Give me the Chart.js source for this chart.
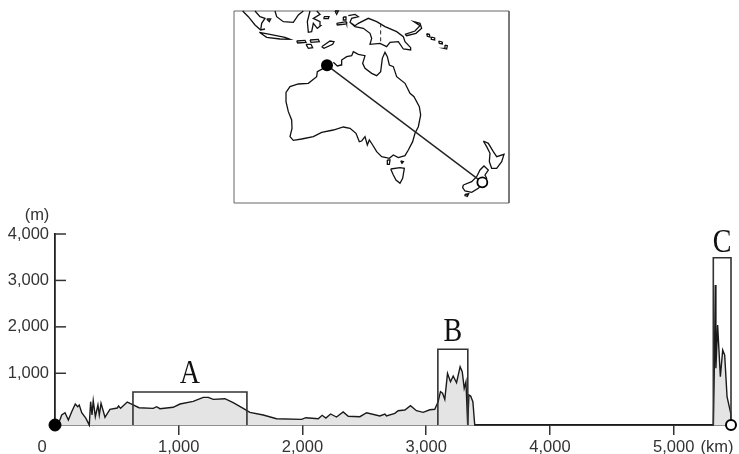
<!DOCTYPE html>
<html>
<head>
<meta charset="utf-8">
<style>
  html, body { margin: 0; padding: 0; background: #fff; }
  canvas { display: block; }
</style>
<script src="https://cdn.jsdelivr.net/npm/chart.js@4"></script>
</head>
<body>
<canvas id="profile" width="739" height="454"></canvas>
<script>
// elevation profile
const distKm = [0, 40, 54, 81, 108, 135, 164, 183, 196, 216, 250, 277, 288, 299, 309, 326, 347, 358, 372, 404, 444, 503, 514, 530, 584, 619, 679, 794, 821, 848, 955, 1010, 1117, 1198, 1239, 1279, 1373, 1440, 1521, 1575, 1683, 1790, 1993, 2027, 2127, 2159, 2189, 2227, 2275, 2329, 2370, 2464, 2518, 2625, 2666, 2679, 2746, 2773, 2827, 2873, 2921, 2975, 3029, 3069, 3096, 3115, 3132, 3150, 3172, 3196, 3218, 3245, 3274, 3291, 3307, 3321, 3335, 3345, 3359, 3377, 3392, 5320, 5328, 5336, 5341, 5355, 5377, 5396, 5412, 5431, 5461, 5463];
const elevM = [-114, -6, 101, 151, -6, 172, 338, 280, 317, 151, 30, -114, 388, 101, 409, 65, 317, 101, 353, 52, 224, 252, 295, 245, 381, 338, 258, 245, 280, 237, 267, 338, 396, 482, 482, 439, 452, 366, 245, 159, 101, 22, 8, 43, 22, 95, 37, 123, 58, 166, 73, 65, 151, 80, 123, 80, 138, 194, 209, 302, 194, 159, 215, 224, 388, 603, 569, 439, 999, 818, 941, 797, 1142, 1034, 676, 818, -114, 532, 510, 388, -114, -114, 1034, 2901, 1107, 2040, 926, 1501, 1393, 495, 138, -114];

const xTicks = [1000, 2000, 3000, 4000, 5000];
const yTicks = [1000, 2000, 3000, 4000];
const baseM = -114;
const endKm = 5463;

// boxes round the three mountain areas
const boxNames = ["A", "B", "C"];
const boxFrom = [630, 3094, 5320];
const boxTo = [1551, 3336, 5463];
const boxTop = [597, 1516, 3489];
const letterGap = [9, 8, 5.5];

// inset map outlines, in the map's own units
const mapFrame = [[12,18],[837,18],[837,594],[12,594],[12,18]];
const mapCoast = [
  [[310,172],[322,183],[333,180],[335,165],[350,155],[365,152],[370,140],[385,148],[405,152],[398,175],[405,190],[425,205],[440,212],[452,200],[457,160],[465,142],[472,155],[478,180],[490,185],[500,215],[525,235],[540,265],[552,275],[568,305],[572,330],[565,365],[555,385],[548,410],[535,435],[525,452],[505,458],[490,450],[478,460],[455,455],[440,440],[428,420],[418,405],[412,420],[405,395],[395,408],[388,410],[378,385],[360,370],[340,366],[310,375],[275,382],[250,395],[215,402],[190,406],[180,395],[186,370],[185,345],[175,320],[168,290],[168,262],[180,245],[205,237],[235,235],[260,215],[262,200],[280,190]],
  [[482,492],[510,488],[523,490],[518,520],[510,535],[498,525],[490,510],[482,492]],
  [[472,465],[480,465],[478,478],[472,478],[472,465]],
  [[512,468],[520,470],[516,475],[512,468]],
  [[38,18],[55,35],[75,60],[92,75],[105,72]],
  [[75,18],[90,35],[105,40],[95,55],[92,75]],
  [[88,82],[120,88],[165,97],[180,103],[150,102],[110,97],[88,82]],
  [[135,18],[140,35],[160,50],[190,52],[205,30],[220,18]],
  [[240,18],[232,50],[235,82],[245,80],[250,55],[262,70],[272,62],[270,50],[250,40],[270,28],[260,18]],
  [[110,42],[122,42],[118,50],[110,42]],
  [[200,108],[225,106],[228,112],[203,114],[200,108]],
  [[240,105],[265,103],[268,110],[243,112],[240,105]],
  [[228,118],[243,118],[248,128],[235,130],[228,118]],
  [[275,125],[300,108],[312,110],[308,118],[282,130],[275,125]],
  [[320,55],[348,50],[350,57],[322,60],[320,55]],
  [[282,35],[297,35],[295,41],[283,41],[282,35]],
  [[315,18],[325,18],[320,28],[315,18]],
  [[340,36],[348,36],[348,45],[340,45],[340,36]],
  [[355,32],[375,28],[385,35],[365,40],[360,52],[375,62],[385,55],[415,40],[440,50],[465,65],[500,80],[520,95],[525,110],[542,128],[542,135],[520,132],[505,110],[480,112],[470,125],[450,115],[420,118],[425,100],[420,85],[400,70],[375,65],[360,52]],
  [[525,88],[555,78],[570,62],[552,50],[570,55],[575,70],[558,85],[530,92],[525,88]],
  [[590,86],[598,88],[600,96],[592,94],[590,86]],
  [[604,96],[614,99],[614,105],[605,103],[604,96]],
  [[626,108],[636,111],[637,117],[628,115],[626,108]],
  [[645,120],[652,122],[650,132],[642,130],[645,120]],
  [[760,408],[775,415],[790,440],[800,455],[822,448],[815,470],[800,490],[785,490],[778,470],[780,445],[770,425],[760,408]],
  [[700,540],[725,530],[740,515],[750,495],[762,483],[775,495],[765,510],[770,520],[745,550],[725,562],[705,558],[698,548],[700,540]],
  [[705,568],[716,566],[712,574],[706,572],[705,568]]
];
const mapBorder = [[452,55],[452,110]];
const mapRoute = [[291,181],[757,532]];

function xy(list) {
  return list.map((p) => ({ x: p[0], y: p[1] }));
}

function mapLine(list, width, color, dash) {
  return {
    data: xy(list), xAxisID: "mapX", yAxisID: "mapY",
    borderColor: color, borderWidth: width, borderDash: dash || [],
    pointRadius: 0, showLine: true, clip: false, fill: false
  };
}

const datasets = [];

// start and end markers of the profile
datasets.push({
  data: [{ x: 0, y: baseM }], pointRadius: 6, pointBackgroundColor: "#000",
  pointBorderColor: "#000", clip: false
});
datasets.push({
  data: [{ x: endKm, y: baseM }], pointRadius: 5, pointBackgroundColor: "#fff",
  pointBorderColor: "#000", pointBorderWidth: 2, clip: false
});
datasets.push(mapLine(mapRoute, 1.4, "#222"));
datasets.push(mapLine(mapBorder, 1, "#222", [4, 3]));
mapCoast.forEach((c) => datasets.push(mapLine(c, 1.3, "#111")));
datasets.push(mapLine(mapFrame, 1, "#666"));

boxNames.forEach((name, i) => {
  datasets.push({
    data: [
      { x: boxFrom[i], y: baseM }, { x: boxFrom[i], y: boxTop[i] },
      { x: boxTo[i], y: boxTop[i] }, { x: boxTo[i], y: baseM }
    ],
    showLine: true, borderColor: "#333", borderWidth: 1.6, pointRadius: 0, clip: false
  });
});

datasets.push({
  data: distKm.map((d, i) => ({ x: d, y: elevM[i] })),
  showLine: true, borderColor: "#1a1a1a", borderWidth: 1.4, pointRadius: 0,
  fill: "start", backgroundColor: "#e4e4e4", clip: false
});

const labelFont = '16.5px "Liberation Sans"';

// inward y ticks, map markers and the texts that do not sit on a tick
const extras = {
  id: "extras",
  beforeDatasetsDraw(chart) {
    const ctx = chart.ctx;
    const sx = chart.scales.x;
    const sy = chart.scales.y;
    ctx.save();
    ctx.strokeStyle = "#333";
    ctx.lineWidth = 1.5;
    yTicks.forEach((v) => {
      const py = sy.getPixelForValue(v);
      ctx.beginPath();
      ctx.moveTo(sx.left, py);
      ctx.lineTo(sx.left + 11, py);
      ctx.stroke();
    });
    ctx.restore();
  },
  afterDatasetsDraw(chart) {
    const ctx = chart.ctx;
    const sx = chart.scales.x;
    const sy = chart.scales.y;
    const mx = chart.scales.mapX;
    const my = chart.scales.mapY;
    ctx.save();
    // points outside the chart area are skipped by the library, so these go here
    ctx.fillStyle = "#000";
    ctx.beginPath();
    ctx.arc(mx.getPixelForValue(mapRoute[0][0]), my.getPixelForValue(mapRoute[0][1]), 6, 0, Math.PI * 2);
    ctx.fill();
    ctx.fillStyle = "#fff";
    ctx.strokeStyle = "#000";
    ctx.lineWidth = 1.8;
    ctx.beginPath();
    ctx.arc(mx.getPixelForValue(mapRoute[1][0]), my.getPixelForValue(mapRoute[1][1]), 5, 0, Math.PI * 2);
    ctx.fill();
    ctx.stroke();

    ctx.fillStyle = "#333";
    ctx.font = labelFont;
    ctx.textBaseline = "middle";
    ctx.textAlign = "center";
    ctx.fillText("0", 42, 447);
    ctx.fillText("(m)", 37, 215);
    ctx.fillText("(km)", 717, 447);
    ctx.fillStyle = "#111";
    ctx.font = '33px "Liberation Serif"';
    ctx.textBaseline = "alphabetic";
    boxNames.forEach((name, i) => {
      const cx = (sx.getPixelForValue(boxFrom[i]) + sx.getPixelForValue(boxTo[i])) / 2;
      ctx.save();
      ctx.translate(cx, sy.getPixelForValue(boxTop[i]) - letterGap[i]);
      ctx.scale(0.85, 1);
      ctx.fillText(name, 0, 0);
      ctx.restore();
    });
    ctx.restore();
  }
};

new Chart(document.getElementById("profile"), {
  type: "scatter",
  data: { datasets: datasets },
  plugins: [extras],
  options: {
    responsive: false,
    animation: false,
    events: [],
    layout: { padding: { top: 234, right: 8, left: 0, bottom: 0 } },
    plugins: { legend: { display: false }, tooltip: { enabled: false } },
    scales: {
      x: {
        type: "linear", min: 0, max: endKm,
        afterBuildTicks: (axis) => { axis.ticks = xTicks.map((v) => ({ value: v })); },
        afterFit: (axis) => { axis.height = 29; },
        grid: { drawOnChartArea: false, tickLength: 10, color: "#333", lineWidth: 1.5 },
        border: { color: "#222", width: 1.5 },
        ticks: {
          color: "#333", font: { family: "Liberation Sans", size: 16.5 }, padding: 3,
          maxRotation: 0, autoSkip: false,
          callback: (v) => v.toLocaleString("en-US")
        }
      },
      y: {
        type: "linear", min: baseM, max: 4000,
        afterBuildTicks: (axis) => { axis.ticks = yTicks.map((v) => ({ value: v })); },
        afterFit: (axis) => { axis.width = 55; },
        grid: { drawOnChartArea: false, drawTicks: false },
        border: { color: "#222", width: 1.8 },
        ticks: {
          color: "#333", font: { family: "Liberation Sans", size: 16.5 }, padding: 6,
          autoSkip: false,
          callback: (v) => v.toLocaleString("en-US")
        }
      },
      // hidden scales for the inset map
      mapX: { type: "linear", display: false, min: -525, max: 1503 },
      mapY: { type: "linear", display: false, min: 687, max: 1260, reverse: true }
    }
  }
});
</script>
</body>
</html>
